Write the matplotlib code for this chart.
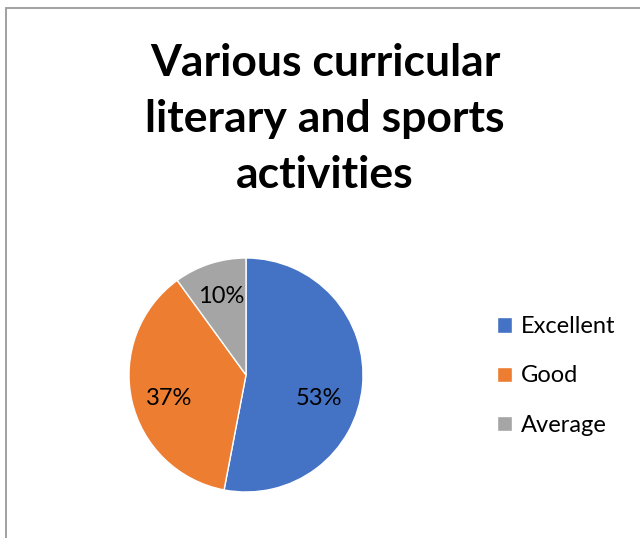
import matplotlib.pyplot as plt
from matplotlib.patches import Rectangle

plt.rcParams['font.family'] = ['Lato', 'DejaVu Sans']

# data
labels = ["Excellent", "Good", "Average"]
values = [53, 37, 10]
colors = ["#4472C4", "#ED7D31", "#A5A5A5"]
title = "Various curricular\nliterary and sports\nactivities"

W, H = 640, 538
fig = plt.figure(figsize=(W / 100, H / 100), dpi=100)

# chart border (only top and left visible in the crop)
fig.patches.append(Rectangle((6 / W, -0.05), 1.2, 1 - 8 / H + 0.05,
                             transform=fig.transFigure, fill=False,
                             edgecolor="#9a9a9a", linewidth=1.3))

fig.text(325 / W, 1 - 119 / H, title, ha="center", va="center",
         fontsize=32, fontweight="bold", linespacing=1.48)

# pie axes: centre (246, 375) px, radius 117 px
cx, cy, r = 246, 375, 117
ax = fig.add_axes([(cx - r) / W, (H - cy - r) / H, 2 * r / W, 2 * r / H])
wedges, _, autotexts = ax.pie(values, colors=colors, startangle=90,
                              counterclock=False,
                              autopct=lambda p: "%d%%" % round(p),
                              wedgeprops=dict(edgecolor="white", linewidth=1),
                              textprops=dict(fontsize=17, color="black"))
ax.set_xlim(-1, 1)
ax.set_ylim(-1, 1)

# excel-style label placement
label_pos = [(0.62, -0.2), (-0.66, -0.2), (-0.21, 0.67)]
for t, p in zip(autotexts, label_pos):
    t.set_position(p)

fig.legend(wedges, labels, loc="center left",
           bbox_to_anchor=(476 / W, 1 - 376 / H), frameon=False,
           fontsize=17, handlelength=0.62, handleheight=0.62,
           handletextpad=0.4, labelspacing=1.2)

fig.savefig("out.png", dpi=100)
